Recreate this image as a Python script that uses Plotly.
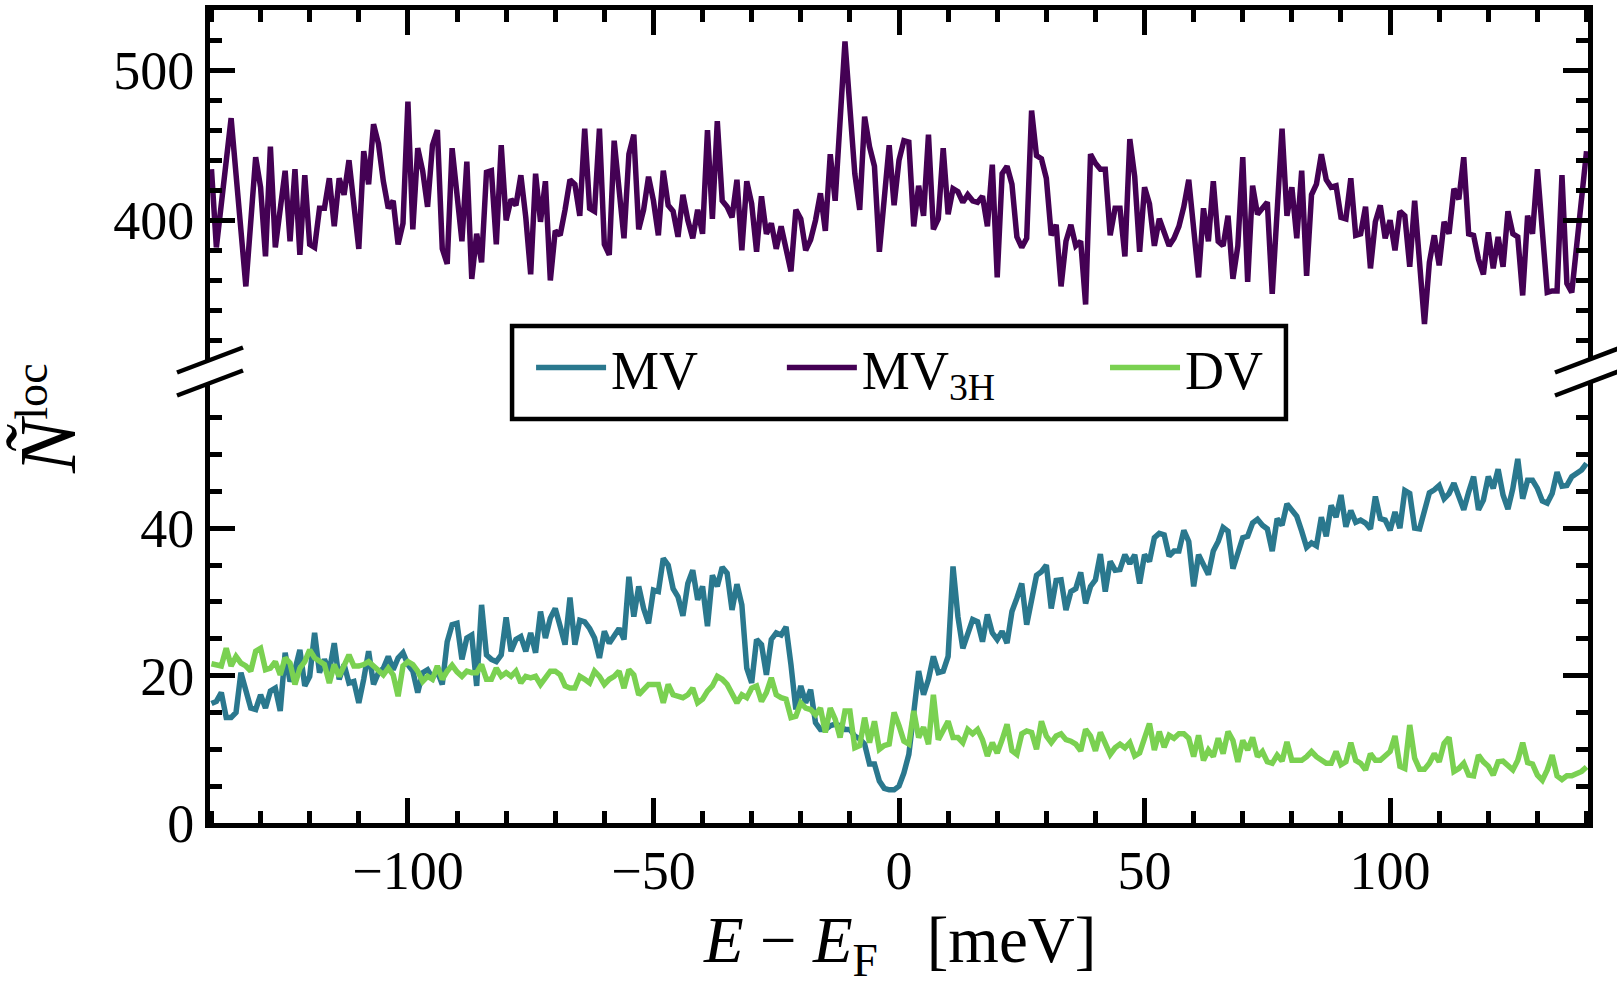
import plotly.graph_objects as go

# ---------------- data ----------------
# energies E - E_F in meV
energy_mv = list(range(-140, 138)) + [139, 140]
mv = [
    16.2, 16.5, 17.7, 14.3, 14.3, 15.0, 20.4, 18.1, 15.6, 15.4,
    17.4, 15.6, 17.9, 18.3, 15.2, 23.1, 19.2, 20.8, 23.5, 18.6,
    19.9, 25.8, 20.4, 22.2, 20.6, 24.4, 19.5, 21.5, 19.0, 19.2,
    16.3, 19.5, 23.3, 18.8, 20.4, 21.0, 22.6, 20.8, 22.4, 23.1,
    21.5, 20.6, 17.7, 20.4, 20.8, 19.7, 20.6, 18.8, 24.6, 26.9,
    27.1, 22.2, 25.1, 25.5, 18.6, 29.6, 22.8, 22.2, 21.9, 22.8,
    27.9, 23.3, 24.9, 25.3, 23.3, 25.8, 23.1, 28.7, 25.1, 27.8,
    29.1, 26.7, 24.2, 30.6, 24.2, 27.5, 27.3, 26.4, 25.1, 22.4,
    26.0, 24.4, 25.3, 26.4, 24.9, 33.4, 28.0, 32.1, 29.1, 27.1,
    31.6, 31.4, 35.9, 35.0, 31.8, 30.7, 28.1, 32.5, 34.3, 30.3,
    32.1, 26.7, 33.6, 32.1, 34.7, 33.9, 28.9, 32.4, 29.6, 21.0,
    19.0, 24.9, 24.2, 20.1, 24.9, 25.8, 25.5, 26.6, 21.5, 15.4,
    18.6, 16.3, 18.1, 13.6, 12.7, 12.7, 13.2, 13.4, 13.2, 12.7,
    12.7, 11.8, 11.4, 10.7, 8.0, 8.0, 5.7, 4.7, 4.5, 4.5,
    5.0, 6.8, 9.3, 14.5, 20.6, 17.4, 19.5, 22.6, 20.4, 20.6,
    22.6, 34.8, 28.0, 23.7, 25.5, 27.6, 27.3, 24.6, 28.3, 25.8,
    24.9, 26.0, 24.4, 28.7, 30.5, 32.5, 26.9, 30.7, 33.6, 34.1,
    35.0, 29.1, 32.9, 33.0, 28.9, 31.4, 31.8, 34.0, 29.8, 32.1,
    33.0, 36.5, 31.4, 35.5, 34.3, 34.4, 36.4, 35.2, 36.4, 32.5,
    36.4, 35.5, 38.7, 39.3, 39.1, 36.2, 36.9, 36.9, 39.7, 38.2,
    32.1, 36.4, 35.1, 33.7, 36.9, 38.2, 40.1, 39.6, 34.5, 36.9,
    38.7, 38.9, 40.7, 41.2, 40.4, 39.9, 36.9, 41.3, 40.4, 43.3,
    42.5, 41.6, 39.6, 37.4, 38.0, 37.6, 41.5, 38.9, 43.1, 41.5,
    44.5, 40.2, 42.4, 40.8, 41.1, 40.7, 39.9, 44.3, 41.3, 41.1,
    39.7, 42.2, 40.0, 45.1, 44.7, 40.0, 39.9, 42.2, 44.8, 45.2,
    45.8, 44.0, 44.7, 46.1, 44.0, 42.5, 44.9, 47.0, 42.5, 43.8,
    47.0, 45.4, 48.0, 44.5, 42.6, 45.4, 49.4, 44.0, 46.5, 46.5,
    45.4, 43.7, 43.4, 44.7, 47.6, 45.7, 45.8, 47.0,
    47.9, 48.8,
]

energy_dv = list(range(-140, 138)) + [139, 140]
dv = [
    21.6, 21.5, 21.3, 23.7, 21.3, 22.6, 21.7, 21.3, 20.6, 23.3,
    23.7, 20.8, 21.0, 21.9, 20.1, 22.4, 21.7, 18.8, 21.0, 21.9,
    23.5, 22.4, 21.9, 21.5, 19.0, 21.5, 19.9, 21.5, 22.8, 21.3,
    21.3, 21.5, 21.9, 21.3, 20.6, 20.1, 21.0, 20.1, 17.2, 21.3,
    21.9, 21.5, 20.6, 19.2, 19.9, 19.5, 21.3, 19.5, 20.6, 21.4,
    20.5, 19.9, 20.6, 20.4, 20.4, 21.5, 19.5, 19.5, 21.0, 19.9,
    20.4, 19.9, 20.6, 19.0, 19.9, 19.7, 19.9, 18.8, 19.7, 20.6,
    20.6, 20.1, 18.6, 18.3, 18.3, 19.9, 19.5, 19.0, 20.6, 19.9,
    18.8, 19.5, 19.9, 20.6, 18.3, 20.8, 20.1, 17.4, 18.1, 18.8,
    18.8, 18.8, 16.3, 18.8, 17.4, 17.2, 17.0, 17.4, 18.3, 16.3,
    16.8, 17.9, 18.6, 19.9, 19.5, 18.8, 17.4, 16.3, 17.4, 17.0,
    18.3, 18.6, 16.5, 17.7, 19.7, 17.4, 17.0, 16.8, 14.3, 14.5,
    16.3, 15.6, 15.4, 14.7, 15.6, 12.3, 15.6, 14.1, 11.6, 15.2,
    15.2, 10.2, 10.5, 14.3, 10.9, 13.8, 10.0, 10.5, 10.7, 15.0,
    13.2, 11.1, 10.7, 15.2, 11.6, 13.0, 10.7, 17.4, 11.3, 12.5,
    13.8, 11.6, 11.6, 10.9, 12.7, 12.1, 12.7, 11.3, 9.1, 10.9,
    9.5, 11.3, 13.4, 9.8, 9.3, 12.1, 12.5, 12.3, 10.0, 13.8,
    11.8, 10.9, 11.8, 12.1, 11.3, 11.1, 10.7, 9.8, 12.7, 11.8,
    9.8, 12.3, 10.9, 9.3, 10.2, 10.7, 10.2, 10.9, 9.1, 9.5,
    11.5, 13.5, 9.9, 12.4, 10.3, 11.9, 11.5, 12.1, 12.1, 11.5,
    9.0, 11.9, 8.5, 9.9, 9.0, 11.5, 9.4, 12.4, 11.2, 8.3,
    11.2, 9.9, 11.6, 9.0, 9.7, 8.3, 8.1, 9.2, 8.4, 11.0,
    8.5, 8.5, 8.5, 9.0, 9.7, 9.0, 8.5, 8.1, 8.1, 9.7,
    7.9, 8.3, 10.9, 8.5, 8.1, 7.2, 9.4, 8.5, 8.5, 9.2,
    9.7, 11.8, 7.7, 7.4, 13.3, 8.8, 7.3, 7.3, 8.1, 9.4,
    8.3, 10.8, 11.6, 7.0, 7.4, 8.1, 6.5, 6.4, 9.2, 8.3,
    7.7, 6.5, 8.3, 8.4, 7.7, 7.2, 8.5, 10.9, 8.2, 8.0,
    6.5, 5.8, 7.2, 9.2, 6.4, 5.9, 6.4, 6.4,
    7.0, 7.6,
]

energy_mv3h = [
    -140, -139, -136, -133, -131, -130, -129, -128, -127, -125,
    -124, -123, -122, -121, -120, -119, -118, -117, -116, -115,
    -114, -113, -112, -110, -109, -108, -107, -106, -105, -104,
    -103, -102, -101, -100, -99, -98, -97, -96, -95, -94,
    -93, -92, -91, -90, -89, -88, -87, -86, -85, -84,
    -83, -82, -81, -80, -79, -78, -77, -76, -75, -74,
    -73, -72, -71, -70, -69, -68, -67, -66, -65, -64,
    -63, -62, -61, -60, -59, -58, -56, -55, -54, -53,
    -52, -51, -50, -49, -48, -47, -46, -45, -44, -43,
    -42, -41, -40, -39, -38, -37, -36, -35, -34, -33,
    -32, -31, -30, -29, -28, -27, -26, -25, -24, -22,
    -21, -20, -19, -18, -17, -16, -15, -14, -13, -11,
    -9, -8, -7, -6, -5, -4, -2, -1, 0, 1,
    2, 3, 4, 5, 6, 7, 8, 9, 10, 11,
    12, 13, 14, 15, 16, 17, 18, 19, 20, 21,
    22, 23, 24, 25, 26, 27, 28, 29, 30, 31,
    32, 33, 34, 35, 36, 37, 38, 39, 40, 41,
    42, 43, 44, 45, 46, 47, 48, 49, 50, 51,
    52, 53, 54, 55, 56, 57, 58, 59, 61, 62,
    63, 64, 65, 66, 67, 68, 69, 70, 71, 72,
    73, 74, 75, 76, 78, 79, 80, 81, 82, 83,
    84, 85, 86, 87, 88, 89, 90, 91, 92, 93,
    94, 95, 96, 97, 98, 99, 100, 101, 102, 103,
    104, 105, 107, 108, 109, 110, 111, 112, 113, 114,
    115, 116, 117, 118, 119, 120, 121, 122, 123, 124,
    125, 126, 127, 128, 129, 130, 132, 133, 134, 135,
    136, 137, 140,
]
mv3h = [
    434, 382, 468, 356, 442, 422, 376, 449, 382, 433,
    386, 434, 377, 430, 384, 382, 408, 408, 428, 396,
    428, 417, 440, 381, 446, 424, 464, 451, 426, 408,
    413, 384, 398, 479, 394, 448, 433, 409, 450, 460,
    381, 371, 448, 416, 386, 439, 361, 391, 372, 432,
    433, 384, 450, 400, 414, 410, 430, 402, 364, 431,
    399, 426, 360, 393, 390, 407, 427, 424, 403, 461,
    408, 406, 461, 384, 377, 453, 388, 444, 457, 394,
    407, 429, 413, 390, 433, 410, 406, 389, 417, 400,
    388, 407, 391, 460, 401, 466, 413, 409, 402, 427,
    380, 426, 411, 379, 416, 391, 398, 381, 396, 366,
    407, 401, 380, 387, 400, 418, 393, 444, 413, 519,
    431, 407, 469, 449, 436, 379, 450, 410, 440, 453,
    452, 396, 423, 403, 457, 394, 401, 448, 404, 421,
    419, 412, 417, 413, 412, 416, 396, 437, 362, 431,
    436, 424, 389, 382, 388, 473, 443, 441, 428, 390,
    397, 356, 386, 397, 383, 386, 344, 444, 438, 434,
    434, 390, 408, 408, 376, 454, 429, 379, 422, 411,
    383, 401, 392, 383, 388, 396, 409, 427, 362, 408,
    386, 426, 386, 383, 403, 361, 383, 442, 359, 423,
    404, 408, 412, 351, 461, 403, 422, 388, 433, 363,
    417, 424, 444, 427, 422, 423, 402, 401, 428, 390,
    391, 409, 368, 399, 410, 388, 400, 380, 406, 403,
    369, 413, 331, 372, 390, 370, 399, 391, 421, 414,
    442, 391, 390, 374, 364, 392, 368, 389, 369, 406,
    391, 389, 350, 403, 391, 434, 352, 353, 353, 430,
    358, 352, 446,
]

x_tickvals = [-100, -50, 0, 50, 100]
y_low_tickvals = [0, 20, 40]
y_high_tickvals = [400, 500]

# ---------------- styling ----------------
FONT = "Liberation Serif"
C_MV = "#2a788e"
C_MV3H = "#440154"
C_DV = "#7ad151"
LW = 5.5
AXW = 5
TICKW = 4.5

LOW_DOMAIN = [0.0, 0.5412]
HIGH_DOMAIN = [0.5695, 1.0]

fig = go.Figure()
fig.add_trace(go.Scatter(x=energy_mv, y=mv, mode="lines", name="MV", legend="legend",
                         line=dict(color=C_MV, width=LW), xaxis="x", yaxis="y"))
fig.add_trace(go.Scatter(x=energy_mv3h, y=mv3h, mode="lines", name="MV<sub>3H</sub>",
                         legend="legend2",
                         line=dict(color=C_MV3H, width=LW), xaxis="x2", yaxis="y2"))
fig.add_trace(go.Scatter(x=energy_dv, y=dv, mode="lines", name="DV", legend="legend3",
                         line=dict(color=C_DV, width=LW), xaxis="x", yaxis="y"))

tickfont = dict(family=FONT, size=54, color="black")
common = dict(showgrid=False, zeroline=False, showline=True, linewidth=AXW,
              linecolor="black", ticks="inside", ticklen=25, tickwidth=TICKW,
              tickcolor="black", tickfont=tickfont)
minor_x = dict(tickmode="linear", tick0=0, dtick=10, ticks="inside",
               ticklen=12, tickwidth=TICKW, tickcolor="black")

legend_common = dict(orientation="h", xanchor="left", yanchor="middle",
                     bgcolor="rgba(0,0,0,0)", borderwidth=0,
                     font=dict(family=FONT, size=54, color="black"), itemwidth=70)
LEG_Y = 0.5597

fig.update_layout(
    width=1617, height=989,
    margin=dict(l=210, r=29, t=10, b=166),
    paper_bgcolor="white", plot_bgcolor="white",
    showlegend=True,
    xaxis=dict(domain=[0, 1], range=[-140.3, 140.3], anchor="y", mirror=False,
               tickmode="array", tickvals=x_tickvals, ticklabelstandoff=-4,
               minor=minor_x, **common),
    xaxis2=dict(domain=[0, 1], matches="x", anchor="y2", side="top", mirror=False,
                showticklabels=False, tickmode="array", tickvals=x_tickvals,
                minor=minor_x, **common),
    yaxis=dict(domain=LOW_DOMAIN, range=[0, 59.7], anchor="x", mirror="ticks",
               tickmode="array", tickvals=y_low_tickvals, ticklabelstandoff=0,
               minor=dict(tickmode="linear", tick0=0, dtick=5, ticks="inside",
                          ticklen=12, tickwidth=TICKW, tickcolor="black"),
               **common),
    yaxis2=dict(domain=HIGH_DOMAIN, range=[307, 540], anchor="x2", mirror="ticks",
                tickmode="array", tickvals=y_high_tickvals, ticklabelstandoff=0,
                minor=dict(tickmode="linear", tick0=0, dtick=20, ticks="inside",
                           ticklen=12, tickwidth=TICKW, tickcolor="black"),
                **common),
    legend=dict(x=0.2330, y=LEG_Y, **legend_common),
    legend2=dict(x=0.4150, y=LEG_Y, **legend_common),
    legend3=dict(x=0.6495, y=LEG_Y, **legend_common),
)

# legend frame
fig.add_shape(type="rect", xref="paper", yref="paper",
              x0=0.2192, x1=0.7808, y0=0.4969, y1=0.6113,
              line=dict(color="black", width=4.5), fillcolor="white", layer="below")

# axis titles
fig.add_annotation(text="<i>E</i> − <i>E</i><sub>F</sub>&nbsp;&nbsp;&nbsp;[meV]",
                   xref="paper", yref="paper",
                   x=0.5, y=-0.1505, xanchor="center", yanchor="middle", showarrow=False,
                   font=dict(family=FONT, size=65, color="black"))
fig.add_annotation(text="<i><span style='font-size:80px'>Ñ</span></i><sup>loc</sup>",
                   xref="paper", yref="paper",
                   x=-0.1176, y=0.498, xanchor="center", yanchor="middle", showarrow=False,
                   textangle=-90, font=dict(family=FONT, size=66, color="black"))

# broken-axis marks
for xa in (0, 1):
    for ya in (HIGH_DOMAIN[0], LOW_DOMAIN[1]):
        fig.add_shape(type="line", xref="paper", yref="paper",
                      xsizemode="pixel", ysizemode="pixel", xanchor=xa, yanchor=ya,
                      x0=-33, x1=33, y0=-12.5, y1=12.5,
                      line=dict(color="black", width=4.5), layer="above")

fig.write_html("out.html", config={"displayModeBar": False},
               post_script="document.body.style.margin='0px';")
